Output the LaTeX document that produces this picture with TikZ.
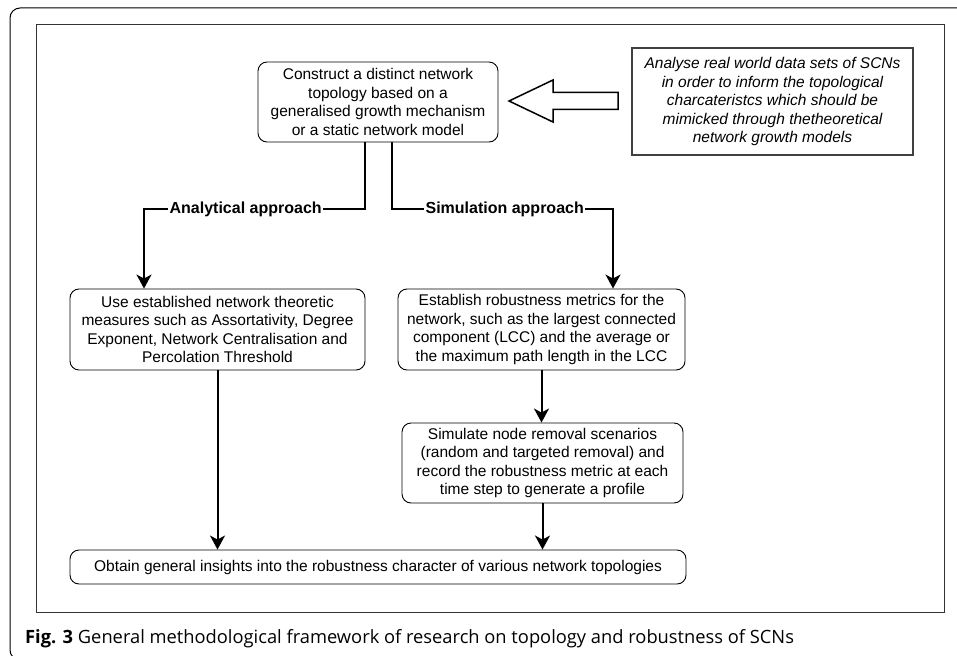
\documentclass[tikz,border=0pt]{standalone}
\usepackage{fontspec}
\setmainfont{Liberation Sans}
\newfontfamily\captionfont{Open Sans}
\usetikzlibrary{arrows.meta,positioning}

\begin{document}
\begin{tikzpicture}[x=1pt, y=-1pt,
            box/.style = {shape=rectangle, rounded corners=9pt,
                    draw, line width=0.9pt, align=center, inner sep=0pt,
                    font=\fontsize{15.5}{18.6}\selectfont},
            note/.style = {shape=rectangle, draw=black!75, line width=1.2pt,
                    align=center, inner sep=0pt,
                    font=\fontsize{15.5}{18.5}\selectfont\itshape},
            flow/.style = {line width=2pt,
                    -{Stealth[length=14pt, width=15pt, inset=4pt]}},
            lbl/.style = {fill=white, inner sep=1.5pt,
                    font=\fontsize{16}{18}\selectfont\bfseries}]
        \useasboundingbox (0,0) rectangle (957,655);
        % frames
        \draw[line width=1pt, rounded corners=10pt] (10,8) rectangle (975,660);
        \draw[line width=1pt, black!80] (36,25) rectangle (944,612);

        \node[box, minimum width=240pt, minimum height=80pt] (construct) at (378,102)
            {Construct a distinct network\\ topology based on a\\
             generalised growth mechanism\\ or a static network model};
        \node[note, minimum width=281pt, minimum height=107pt] (analyse) at (772.5,101.5)
            {Analyse real world data sets of SCNs\\ in order to inform the topological\\
             charcateristcs which should be\\ mimicked through thetheoretical\\
             network growth models};
        \node[box, minimum width=295pt, minimum height=81pt] (measures) at (217.5,329.5)
            {Use established network theoretic\\ measures such as Assortativity, Degree\\
             Exponent, Network Centralisation and\\ Percolation Threshold};
        \node[box, minimum width=287pt, minimum height=81pt] (metrics) at (541.5,329.5)
            {Establish robustness metrics for the\\ network, such as the largest connected\\
             component (LCC) and the average or\\ the maximum path length in the LCC};
        \node[box, minimum width=281pt, minimum height=80pt] (simulate) at (542.5,463)
            {Simulate node removal scenarios\\ (random and targeted removal) and\\
             record the robustness metric at each\\ time step to generate a profile};
        \node[box, minimum width=616pt, minimum height=34pt] (insights) at (378,567)
            {Obtain general insights into the robustness character of various network topologies};

        % hollow arrow from the data sets
        \draw[line width=1.5pt, line join=miter] (618,92.5) -- (553,92.5) -- (553,80)
            -- (509,101) -- (553,122) -- (553,109.5) -- (618,109.5) -- cycle;

        % the two approaches
        \coordinate (aturn) at (365,209);
        \coordinate (aleft) at (144,209);
        \coordinate (sturn) at (392,209);
        \coordinate (sright) at (613,209);
        \draw[flow] (construct.south -| aturn) -- (aturn)
            -- node[lbl, pos=0.54] {Analytical approach} (aleft) -- (aleft |- measures.north);
        \draw[flow] (construct.south -| sturn) -- (sturn)
            -- node[lbl, pos=0.51] {Simulation approach} (sright) -- (sright |- metrics.north);
        \draw[flow] (metrics.south) -- (metrics.south |- simulate.north);
        \draw[flow] (simulate.south) -- (simulate.south |- insights.north);
        \draw[flow] (measures.south) -- (measures.south |- insights.north);

        \node[anchor=base west, inner sep=0pt, font=\captionfont\fontsize{18.3}{20}\selectfont] (caption) at (25,643)
            {\textbf{Fig. 3} General methodological framework of research on topology and robustness of SCNs};
    \end{tikzpicture}
\end{document}
